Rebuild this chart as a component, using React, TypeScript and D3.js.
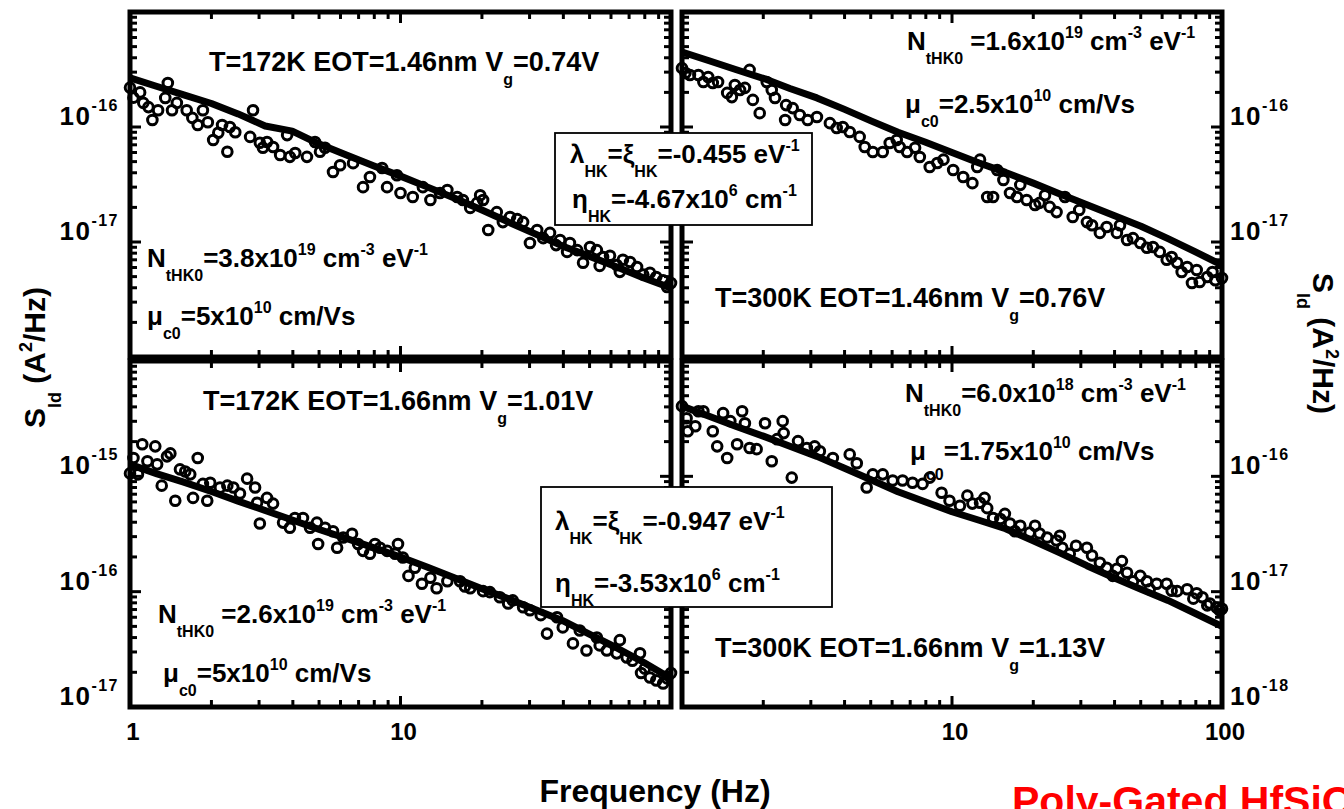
import React from 'react';
import * as d3 from 'd3';

const W = 1344;
const H = 809;
const FONT = '"Liberation Sans", Arial, Helvetica, sans-serif';

// Frequency grid of the modelled (fitted) noise curves, Hz
const fitFreq = [1, 1.26, 1.58, 2, 2.51, 3.16, 3.98, 5.01, 6.31, 7.94, 10, 12.6, 15.8, 20, 25.1, 31.6, 39.8, 50.1, 63.1, 79.4, 100];

// Model curves S_Id (A^2/Hz) on fitFreq
const tlFit = [2.67e-16, 2.25e-16, 1.9e-16, 1.6e-16, 1.3e-16, 1.02e-16, 9.2e-17, 7.1e-17, 5.7e-17, 4.6e-17, 3.74e-17, 3.0e-17, 2.41e-17, 1.9e-17, 1.49e-17, 1.17e-17, 9.2e-18, 7.5e-18, 6.06e-18, 4.86e-18, 3.98e-18];
const trFit = [4.49e-16, 3.77e-16, 3.16e-16, 2.65e-16, 2.16e-16, 1.79e-16, 1.43e-16, 1.13e-16, 9.0e-17, 7.4e-17, 5.99e-17, 4.86e-17, 4.03e-17, 3.25e-17, 2.62e-17, 2.11e-17, 1.7e-17, 1.37e-17, 1.07e-17, 8.25e-18, 6.3e-18];
const blFit = [1.27e-15, 1.05e-15, 8.9e-16, 7.38e-16, 6.1e-16, 5.05e-16, 4.18e-16, 3.46e-16, 2.89e-16, 2.41e-16, 2.0e-16, 1.63e-16, 1.32e-16, 1.06e-16, 8.66e-17, 6.98e-17, 5.6e-17, 4.26e-17, 3.25e-17, 2.43e-17, 1.77e-17];
const brFit = [4.06e-16, 3.32e-16, 2.72e-16, 2.23e-16, 1.82e-16, 1.49e-16, 1.18e-16, 9.35e-17, 7.36e-17, 6.03e-17, 4.93e-17, 4.16e-17, 3.51e-17, 2.76e-17, 2.17e-17, 1.68e-17, 1.32e-17, 1.05e-17, 8.4e-18, 6.5e-18, 5.0e-18];

// Measured spectra: [frequency (Hz), S_Id (A^2/Hz)]
const tlPoints: [number, number][] = [
  [1, 2.2e-16], [1.03, 1.8e-16], [1.09, 2.0e-16], [1.12, 1.62e-16], [1.17, 1.49e-16], [1.21, 1.15e-16],
  [1.27, 1.4e-16], [1.35, 1.79e-16], [1.38, 2.41e-16], [1.43, 1.4e-16], [1.49, 1.62e-16], [1.62, 1.4e-16],
  [1.7, 1.2e-16], [1.78, 1.04e-16], [1.86, 1.4e-16], [1.94, 1.1e-16], [2.03, 7.7e-17], [2.12, 8.9e-17],
  [2.19, 1.04e-16], [2.29, 6.1e-17], [2.34, 1.0e-16], [2.45, 9.0e-17], [2.78, 8.2e-17], [2.85, 1.4e-16],
  [3.02, 7.3e-17], [3.1, 6.6e-17], [3.21, 7.4e-17], [3.38, 6.7e-17], [3.59, 5.7e-17], [3.81, 8.5e-17],
  [3.9, 5.5e-17], [4.08, 5.95e-17], [4.51, 5.5e-17], [4.83, 7.4e-17], [5.04, 6.1e-17], [5.26, 6.6e-17],
  [5.63, 4.06e-17], [5.98, 4.65e-17], [6.68, 4.85e-17], [7.27, 3.0e-17], [7.71, 3.67e-17], [8.55, 4.4e-17],
  [8.92, 3.0e-17], [9.7, 3.8e-17], [10.0, 2.67e-17], [11.1, 2.46e-17], [12.1, 3.0e-17], [12.9, 2.32e-17],
  [14.0, 2.67e-17], [14.9, 2.83e-17], [16.2, 2.46e-17], [17.0, 2.32e-17], [18.1, 1.98e-17], [19.2, 2.19e-17],
  [19.7, 2.55e-17], [20.2, 2.32e-17], [21.1, 1.27e-17], [22.7, 1.82e-17], [23.9, 1.49e-17], [25.4, 1.65e-17],
  [27.0, 1.58e-17], [28.4, 1.49e-17], [30.1, 9.8e-18], [32.0, 1.27e-17], [33.7, 1.08e-17], [35.7, 1.2e-17],
  [37.6, 9.4e-18], [38.9, 1.04e-17], [41.3, 8.2e-18], [42.3, 9.8e-18], [45.0, 8.5e-18], [47.3, 6.6e-18],
  [50.2, 9.05e-18], [53.2, 8.5e-18], [54.5, 6.2e-18], [56.1, 7.4e-18], [59.5, 7.6e-18], [63.0, 6.3e-18],
  [64.7, 5.5e-18], [66.4, 7.0e-18], [70.6, 6.7e-18], [74.9, 6.06e-18], [79.0, 5.2e-18], [83.6, 5.4e-18],
  [88.2, 4.96e-18], [93.5, 4.65e-18], [96.7, 4.06e-18], [100, 4.4e-18],
];

const trPoints: [number, number][] = [
  [1.0, 3.25e-16], [1.03, 2.95e-16], [1.07, 2.83e-16], [1.15, 2.83e-16], [1.2, 2.46e-16], [1.25, 2.72e-16],
  [1.3, 2.41e-16], [1.36, 2.46e-16], [1.47, 1.98e-16], [1.53, 1.82e-16], [1.57, 2.32e-16], [1.64, 2.1e-16],
  [1.71, 2.19e-16], [1.78, 3.14e-16], [1.83, 1.72e-16], [1.94, 1.32e-16], [2.06, 2.46e-16], [2.15, 2.1e-16],
  [2.21, 1.79e-16], [2.41, 1.15e-16], [2.43, 1.55e-16], [2.57, 1.46e-16], [2.73, 1.27e-16], [2.92, 1.15e-16],
  [3.16, 1.22e-16], [3.53, 1.08e-16], [3.74, 9.8e-17], [3.94, 1.0e-16], [4.18, 9.05e-17], [4.55, 8.2e-17],
  [4.75, 6.7e-17], [5.09, 6.06e-17], [5.54, 6.06e-17], [5.88, 7.26e-17], [6.24, 7.7e-17], [6.4, 6.7e-17],
  [6.82, 6.06e-17], [7.3, 6.6e-17], [7.6, 5.48e-17], [8.27, 4.49e-17], [8.82, 4.86e-17], [9.3, 5.2e-17],
  [10.1, 4.23e-17], [11.0, 3.67e-17], [11.9, 3.25e-17], [12.4, 4.49e-17], [12.7, 5.2e-17], [13.5, 2.46e-17],
  [14.2, 2.46e-17], [14.7, 4.23e-17], [15.5, 3.46e-17], [16.4, 2.67e-17], [17.4, 2.46e-17], [17.9, 3.14e-17],
  [18.9, 2.32e-17], [20.3, 2.1e-17], [21.1, 2.19e-17], [22.1, 2.55e-17], [23.0, 2.02e-17], [24.4, 1.82e-17],
  [26.2, 2.46e-17], [28.0, 1.65e-17], [29.6, 1.9e-17], [31.6, 1.49e-17], [33.0, 1.4e-17], [35.3, 1.2e-17],
  [37.4, 1.35e-17], [40.8, 1.2e-17], [41.9, 1.4e-17], [44.5, 1.04e-17], [46.8, 1.08e-17], [49.8, 9.8e-18],
  [52.7, 8.9e-18], [55.5, 9.05e-18], [58.8, 8.2e-18], [62.4, 7.0e-18], [65.1, 7.4e-18], [68.2, 6.6e-18],
  [70.9, 5.48e-18], [74.3, 6.06e-18], [77.4, 4.4e-18], [80.6, 5.7e-18], [82.7, 4.49e-18], [88.2, 4.96e-18],
  [92.2, 5.48e-18], [94.5, 4.65e-18], [100, 4.86e-18],
];

const blPoints: [number, number][] = [
  [1.0, 1.06e-15], [1.03, 1.44e-15], [1.07, 1.04e-15], [1.11, 1.9e-15], [1.16, 1.35e-15], [1.24, 1.82e-15],
  [1.26, 1.27e-15], [1.31, 8.3e-16], [1.37, 1.49e-15], [1.41, 1.58e-15], [1.47, 6.15e-16], [1.53, 1.15e-15],
  [1.6, 1.1e-15], [1.67, 1.04e-15], [1.71, 6.5e-16], [1.78, 1.44e-15], [1.86, 8.6e-16], [1.93, 6.15e-16],
  [1.98, 8.8e-16], [2.15, 7.98e-16], [2.29, 8.3e-16], [2.41, 8.0e-16], [2.55, 7.1e-16], [2.71, 9.55e-16],
  [2.9, 8.0e-16], [2.95, 5.9e-16], [3.02, 3.9e-16], [3.21, 6.5e-16], [3.38, 5.8e-16], [3.68, 3.97e-16],
  [3.9, 3.58e-16], [4.07, 4.35e-16], [4.36, 4.35e-16], [4.63, 3.58e-16], [4.91, 3.97e-16], [4.96, 2.59e-16],
  [5.26, 3.58e-16], [5.63, 3.34e-16], [5.83, 2.4e-16], [6.14, 2.95e-16], [6.62, 3.18e-16], [6.97, 2.59e-16],
  [7.27, 2.26e-16], [7.71, 2.13e-16], [8.05, 2.59e-16], [8.4, 2.4e-16], [8.92, 2.26e-16], [9.55, 2.13e-16],
  [9.79, 2.59e-16], [10.2, 1.98e-16], [10.7, 1.37e-16], [11.3, 1.61e-16], [12.0, 1.17e-16], [12.9, 1.32e-16],
  [13.6, 1.07e-16], [14.9, 1.23e-16], [16.6, 1.23e-16], [17.3, 1.11e-16], [18.1, 1.07e-16], [20.2, 1.01e-16],
  [21.4, 9.9e-17], [23.3, 8.94e-17], [25.0, 7.9e-17], [26.0, 8.4e-17], [28.4, 7.32e-17], [30.1, 6.9e-17],
  [33.0, 6.26e-17], [34.8, 4.33e-17], [37.9, 6.0e-17], [39.8, 4.9e-17], [43.4, 3.56e-17], [46.0, 4.6e-17],
  [48.7, 3.09e-17], [53.2, 4.0e-17], [54.5, 3.42e-17], [57.9, 3.09e-17], [63.0, 2.92e-17], [64.7, 3.8e-17],
  [68.6, 2.69e-17], [72.0, 2.52e-17], [76.8, 2.92e-17], [77.5, 1.97e-17], [80.0, 2.15e-17], [83.6, 1.8e-17],
  [88.2, 1.7e-17], [93.5, 1.6e-17], [96.7, 1.77e-17], [100, 1.97e-17],
];

const brPoints: [number, number][] = [
  [1.0, 4.06e-16], [1.04, 3.19e-16], [1.05, 2.46e-16], [1.12, 2.72e-16], [1.15, 3.67e-16], [1.2, 3.67e-16],
  [1.3, 2.46e-16], [1.35, 1.82e-16], [1.42, 3.53e-16], [1.47, 1.44e-16], [1.51, 3.01e-16], [1.6, 1.9e-16],
  [1.67, 3.67e-16], [1.71, 2.89e-16], [1.78, 1.76e-16], [1.89, 1.72e-16], [2.03, 2.89e-16], [2.15, 1.35e-16],
  [2.25, 2.1e-16], [2.36, 3.01e-16], [2.38, 2.37e-16], [2.55, 9.75e-17], [2.69, 2.02e-16], [2.9, 1.76e-16],
  [3.1, 1.82e-16], [3.24, 1.65e-16], [3.62, 1.44e-16], [4.18, 1.55e-16], [4.44, 1.3e-16], [4.83, 8.0e-17],
  [5.09, 1.04e-16], [5.54, 1.04e-16], [6.03, 9.2e-17], [6.56, 9.2e-17], [7.14, 8.8e-17], [7.78, 8.6e-17],
  [8.27, 9.75e-17], [9.15, 7.2e-17], [9.79, 6.15e-17], [10.7, 5.55e-17], [11.4, 6.8e-17], [11.9, 5.8e-17],
  [12.7, 5.9e-17], [13.2, 6.5e-17], [13.5, 5.3e-17], [14.2, 4.35e-17], [15.1, 4.27e-17], [15.7, 4.73e-17],
  [16.4, 3.9e-17], [17.1, 3.34e-17], [17.9, 3.73e-17], [19.4, 3.25e-17], [20.3, 3.73e-17], [21.1, 3.19e-17],
  [22.5, 2.95e-17], [24.4, 2.78e-17], [25.1, 3.05e-17], [25.6, 2.4e-17], [27.3, 2.13e-17], [28.8, 2.5e-17],
  [31.6, 2.4e-17], [33.0, 2.06e-17], [35.3, 1.78e-17], [37.4, 1.61e-17], [39.4, 1.37e-17], [40.8, 1.58e-17],
  [42.6, 1.84e-17], [44.5, 1.46e-17], [46.8, 1.23e-17], [49.8, 1.37e-17], [52.7, 1.23e-17], [54.0, 1.05e-17],
  [57.3, 1.17e-17], [62.4, 1.17e-17], [65.1, 1.02e-17], [68.2, 1.01e-17], [74.3, 1.05e-17], [78.3, 8.7e-18],
  [80.6, 9.7e-18], [84.6, 8.94e-18], [88.2, 7.6e-18], [90.2, 7.9e-18], [95.5, 7.3e-18], [98, 6.9e-18],
  [100, 7.1e-18],
];

// Decade exponents that get a tick label, per panel
const tlYLabels = [-16, -17];
const trYLabels = [-16, -17];
const blYLabels = [-15, -16, -17];
const brYLabels = [-16, -17, -18];
const leftXLabels = [1, 10];
const rightXLabels = [10, 100];

type Panel = {
  key: string;
  x0: number; x1: number; y0: number; y1: number;
  yDomain: [number, number];
  points: [number, number][];
  fit: number[];
  yLabels: number[];
  ySide: 'left' | 'right';
  xLabels: number[];
};

const panels: Panel[] = [
  { key: 'tl', x0: 130, x1: 671, y0: 12, y1: 357, yDomain: [1e-18, 1e-15], points: tlPoints, fit: tlFit, yLabels: tlYLabels, ySide: 'left', xLabels: [] },
  { key: 'tr', x0: 682, x1: 1222, y0: 12, y1: 357, yDomain: [1e-18, 1e-15], points: trPoints, fit: trFit, yLabels: trYLabels, ySide: 'right', xLabels: [] },
  { key: 'bl', x0: 130, x1: 671, y0: 361, y1: 707, yDomain: [1e-17, 1e-14], points: blPoints, fit: blFit, yLabels: blYLabels, ySide: 'left', xLabels: leftXLabels },
  { key: 'br', x0: 682, x1: 1222, y0: 361, y1: 707, yDomain: [1e-18, 1e-15], points: brPoints, fit: brFit, yLabels: brYLabels, ySide: 'right', xLabels: rightXLabels },
];

const isDecade = (v: number) => Math.abs(Math.log10(v) - Math.round(Math.log10(v))) < 1e-6;

// Text with _{sub} and ^{sup} markup rendered as shifted tspans
function Rich({ x = 0, y = 0, s, size = 26, small = 16, sub = 14, sup = 12, anchor = 'start', transform, fill = '#000', spacing = 0 }: any) {
  const parts: { t: string; k: string }[] = [];
  const re = /([_^])\{([^}]*)\}|([^_^]+)/g;
  let m: RegExpExecArray | null;
  while ((m = re.exec(s)) !== null) {
    if (m[3] !== undefined) parts.push({ t: m[3], k: 'n' });
    else parts.push({ t: m[2], k: m[1] === '_' ? 'sub' : 'sup' });
  }
  let cur = 0;
  return (
    <text x={x} y={y} transform={transform} textAnchor={anchor} fontFamily={FONT} fontWeight="bold"
      fill={fill} letterSpacing={spacing} style={{ whiteSpace: 'pre' }}>
      {parts.map((p, i) => {
        const target = p.k === 'sub' ? sub : p.k === 'sup' ? -sup : 0;
        const dy = target - cur;
        cur = target;
        return <tspan key={i} dy={dy} fontSize={p.k === 'n' ? size : small}>{p.t}</tspan>;
      })}
    </text>
  );
}

function PanelView({ p }: { p: Panel }) {
  const x = d3.scaleLog().domain([1, 100]).range([p.x0, p.x1]);
  const y = d3.scaleLog().domain(p.yDomain).range([p.y1, p.y0]);
  const xt = x.ticks().filter((v) => v > 1.0001 && v < 99.99);
  const yt = y.ticks().filter((v) => v > p.yDomain[0] * 1.0001 && v < p.yDomain[1] * 0.9999);
  const line = d3.line<number>().x((_, i) => x(fitFreq[i])).y((d) => y(d));
  const major = 11;
  const minor = 7;
  return (
    <g>
      <rect x={p.x0} y={p.y0} width={p.x1 - p.x0} height={p.y1 - p.y0} fill="none" stroke="#000" strokeWidth={5} />
      <g stroke="#000" strokeWidth={3}>
        {xt.map((v) => {
          const L = isDecade(v) ? major : minor;
          const px = x(v);
          return (
            <g key={'x' + v}>
              <line x1={px} x2={px} y1={p.y1} y2={p.y1 - L} />
              <line x1={px} x2={px} y1={p.y0} y2={p.y0 + L} />
            </g>
          );
        })}
        {yt.map((v) => {
          const L = isDecade(v) ? major : minor;
          const py = y(v);
          return (
            <g key={'y' + v}>
              <line x1={p.x0} x2={p.x0 + L} y1={py} y2={py} />
              <line x1={p.x1} x2={p.x1 - L} y1={py} y2={py} />
            </g>
          );
        })}
      </g>
      <path d={line(p.fit) || ''} fill="none" stroke="#000" strokeWidth={7} strokeLinejoin="round" />
      <g fill="none" stroke="#000" strokeWidth={3}>
        {p.points.map(([f, s], i) => (
          <circle key={i} cx={x(f)} cy={y(s)} r={4.8} />
        ))}
      </g>
      {p.yLabels.map((e) => {
        const py = y(Math.pow(10, e)) - 2;
        return p.ySide === 'left' ? (
          <Rich key={'l' + e} x={p.x0 - 11} y={py} s={`10^{${e}}`} size={26} small={16} sup={14} anchor="end" spacing={1.5} />
        ) : (
          <Rich key={'l' + e} x={p.x1 + 8} y={py} s={`10^{${e}}`} size={26} small={16} sup={14} spacing={1.5} />
        );
      })}
      {p.xLabels.map((v) => (
        <text key={'xl' + v} x={x(v) + 3} y={740} textAnchor="middle" fontFamily={FONT} fontWeight="bold" fontSize={24}>
          {String(v)}
        </text>
      ))}
    </g>
  );
}

export default function App() {
  return (
    <svg width={W} height={H} viewBox={`0 0 ${W} ${H}`} style={{ position: 'absolute', left: 0, top: 0, background: '#fff' }}>
      <rect x={0} y={0} width={W} height={H} fill="#fff" />
      {panels.map((p) => (
        <PanelView key={p.key} p={p} />
      ))}

      {/* top-left annotations */}
      <Rich x={209} y={71} s="T=172K EOT=1.46nm V_{g}=0.74V" size={27} />
      <Rich x={147} y={267} s="N_{tHK0}=3.8x10^{19} cm^{-3} eV^{-1}" />
      <Rich x={147} y={325} s="μ_{c0}=5x10^{10} cm/Vs" />

      {/* top-right annotations */}
      <Rich x={907} y={50} s="N_{tHK0} =1.6x10^{19} cm^{-3} eV^{-1}" />
      <Rich x={905} y={113} s="μ_{c0}=2.5x10^{10} cm/Vs" />
      <Rich x={715} y={307} s="T=300K EOT=1.46nm V_{g}=0.76V" size={27} />

      {/* bottom-left annotations */}
      <Rich x={203} y={410} s="T=172K EOT=1.66nm V_{g}=1.01V" size={27} />
      <Rich x={158} y={623} s="N_{tHK0} =2.6x10^{19} cm^{-3} eV^{-1}" />
      <Rich x={163} y={682} s="μ_{c0}=5x10^{10} cm/Vs" />

      {/* bottom-right annotations */}
      <Rich x={905} y={402} s="N_{tHK0}=6.0x10^{18} cm^{-3} eV^{-1}" />
      <Rich x={910} y={460} s="μ_{c0}=1.75x10^{10} cm/Vs" sub={20} />
      <Rich x={715} y={657} s="T=300K EOT=1.66nm V_{g}=1.13V" size={27} />

      {/* parameter boxes */}
      <rect x={555} y={133} width={257} height={92} fill="#fff" stroke="#000" strokeWidth={1.8} />
      <Rich x={570} y={163} s="λ_{HK}=ξ_{HK}=-0.455 eV^{-1}" />
      <Rich x={572} y={208} s="η_{HK}=-4.67x10^{6} cm^{-1}" />
      <rect x={541} y={487} width={291} height={120} fill="#fff" stroke="#000" strokeWidth={1.8} />
      <Rich x={555} y={530} s="λ_{HK}=ξ_{HK}=-0.947 eV^{-1}" />
      <Rich x={555} y={592} s="η_{HK}=-3.53x10^{6} cm^{-1}" />

      {/* axis titles */}
      <Rich transform="translate(45,428) rotate(-90)" s="S_{Id} (A^{2}/Hz)" size={30} small={18} sub={16} sup={13} />
      <Rich transform="translate(1313,273) rotate(90)" s="S_{Id} (A^{2}/Hz)" size={30} small={18} sub={16} sup={13} />
      <text x={655} y={802} textAnchor="middle" fontFamily={FONT} fontWeight="bold" fontSize={32}>Frequency (Hz)</text>
      <text x={1012} y={815} fontFamily={FONT} fontWeight="bold" fontSize={41} fill="#ff0000">Poly-Gated HfSiON</text>
    </svg>
  );
}
